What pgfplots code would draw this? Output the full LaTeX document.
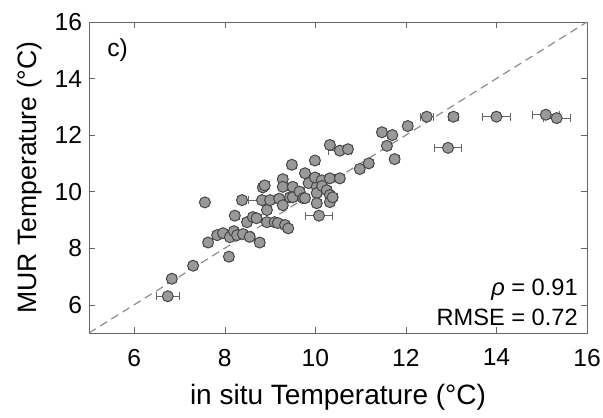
\documentclass[border=0pt]{standalone}
\usepackage{pgfplots}
\pgfplotsset{compat=1.18}
\usepackage{pgfplotstable}
\usepackage{fontspec}
\setmainfont{Liberation Sans}

\pgfplotstableread{
x y ex ey
6.74 6.30 0.25 0.12
6.83 6.92 0.10 0.12
7.30 7.38 0.10 0.12
7.56 9.62 0.08 0.12
7.63 8.20 0.10 0.12
7.83 8.46 0.10 0.12
7.96 8.53 0.10 0.12
8.09 7.70 0.10 0.12
8.11 8.39 0.10 0.12
8.20 8.60 0.10 0.12
8.27 8.46 0.10 0.12
8.40 8.50 0.10 0.12
8.38 9.70 0.10 0.12
8.22 9.15 0.10 0.12
8.55 8.40 0.10 0.12
8.49 8.92 0.10 0.12
8.62 9.10 0.10 0.12
8.70 9.06 0.10 0.12
8.77 8.20 0.10 0.12
8.84 10.15 0.10 0.12
8.88 10.22 0.10 0.12
8.82 9.70 0.30 0.12
8.93 9.35 0.10 0.12
8.93 8.92 0.10 0.12
9.00 9.70 0.10 0.12
9.10 8.92 0.10 0.12
9.17 8.89 0.10 0.12
9.20 9.75 0.10 0.12
9.28 10.44 0.10 0.12
9.28 10.17 0.10 0.12
9.28 9.52 0.10 0.12
9.33 8.82 0.10 0.12
9.40 8.70 0.10 0.12
9.44 9.80 0.10 0.12
9.48 10.95 0.10 0.12
9.50 10.17 0.10 0.12
9.50 9.80 0.10 0.12
9.65 10.00 0.10 0.12
9.73 9.77 0.10 0.12
9.77 10.65 0.10 0.12
9.77 9.77 0.10 0.12
9.85 10.30 0.10 0.12
9.99 11.10 0.10 0.12
10.03 10.17 0.10 0.12
9.99 10.50 0.10 0.12
10.03 9.95 0.10 0.12
10.03 9.59 0.10 0.12
10.14 10.40 0.10 0.12
10.15 10.20 0.10 0.12
10.25 10.05 0.10 0.12
10.32 10.47 0.10 0.12
10.32 9.88 0.10 0.12
10.32 9.63 0.10 0.12
10.38 9.80 0.10 0.12
10.08 9.15 0.30 0.12
10.32 11.65 0.10 0.12
10.54 10.47 0.10 0.12
10.54 11.45 0.25 0.12
10.72 11.50 0.10 0.12
10.98 10.80 0.10 0.12
11.18 11.00 0.10 0.12
11.47 12.10 0.10 0.12
11.58 11.62 0.10 0.12
11.70 12.00 0.10 0.12
11.75 11.15 0.10 0.12
12.04 12.32 0.10 0.12
12.46 12.65 0.15 0.12
12.93 11.55 0.30 0.12
13.05 12.65 0.12 0.12
14.00 12.65 0.30 0.12
15.09 12.72 0.30 0.12
15.33 12.60 0.30 0.12
}\scatterdata

\begin{document}
\begin{tikzpicture}
\begin{axis}[
    at={(0,0)}, anchor=origin,
    scale only axis,
    width=249pt,
    height=155.5pt,
    xmin=5, xmax=16,
    ymin=5, ymax=16,
    xtick={6,8,10,12,14,16},
    ytick={6,8,10,12,14,16},
    tick align=inside,
    axis line style={black!60},
    major tick style={black!60},
    major tick length=3pt,
    /pgf/number format/assume math mode=true,
    tick label style={font=\fontsize{12.3}{13}\selectfont},
    xticklabel style={yshift=-4.5pt},
    xlabel={in situ Temperature (°C)},
    ylabel={MUR Temperature (°C)},
    xlabel style={font=\fontsize{14}{15}\selectfont, at={(axis description cs:0.5,0)}, anchor=center, yshift=-32pt},
    ylabel style={font=\fontsize{13.3}{14}\selectfont, at={(axis description cs:0,0.5)}, anchor=center, yshift=29.5pt},
    clip=false,
]
\addplot[gray!90, dash pattern=on 4pt off 2.6pt, line width=0.6pt, forget plot] coordinates {(5,5) (16,16)};
\addplot[
    only marks,
    mark=*,
    mark size=2.75pt,
    mark options={fill=black!40, draw=black!72, line width=0.5pt},
    error bars/.cd,
        x dir=both, x explicit,
        y dir=both, y explicit,
        error mark options={rotate=90, mark size=2pt, black!60},
        error bar style={black!60, line width=0.5pt},
] table[x=x, y=y, x error=ex, y error=ey] {\scatterdata};
\node[anchor=west, font=\fontsize{12.3}{13}\selectfont] at (axis cs:5.25,15.0) {c)};
\node[anchor=east, font=\fontsize{11.8}{12}\selectfont] at (axis cs:15.95,6.52) {\textit{ρ} = 0.91};
\node[anchor=east, font=\fontsize{11.8}{12}\selectfont] at (axis cs:15.95,5.57) {RMSE = 0.72};
\end{axis}
\pgfresetboundingbox
\path[use as bounding box] (-44.5pt,-42pt) rectangle (257pt,166.5pt);
\end{tikzpicture}
\end{document}
